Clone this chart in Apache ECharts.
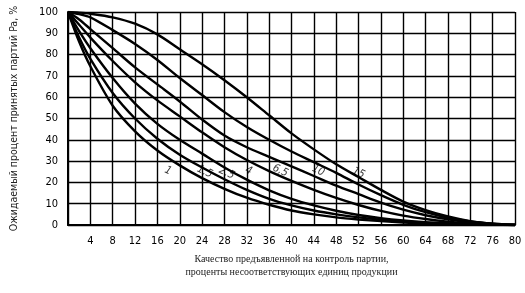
<!DOCTYPE html>
<html>
<head>
<meta charset="utf-8">
<script src="https://cdn.jsdelivr.net/npm/echarts@6/dist/echarts.min.js"></script>
<style>html,body{margin:0;padding:0;background:#fff;}#c{width:525px;height:293px;}</style>
</head>
<body>
<div id="c"></div>
<script>
// Defect level, % (x positions of read points)
var defectPct = [0, 2, 4, 8, 12, 16, 20, 24, 28, 32, 36, 40, 44, 48, 52, 56, 60, 64, 68, 72, 76, 80];
// Curve labels (AQL)
var curveNames = ['1', '1,5', '2,5', '4', '6,5', '10', '15'];
// Probability of acceptance Pa, % for each curve
var pa1   = [100, 86, 74.5, 56, 44, 35, 28, 22, 17, 12.8, 9.5, 6.8, 5, 3.6, 2.6, 1.8, 1.2, 0.7, 0.4, 0.2, 0, 0];
var pa1_5 = [100, 88, 78, 62, 50, 40.5, 33, 27, 21.5, 16.5, 12.3, 9.2, 6.8, 5, 3.6, 2.5, 1.7, 1.1, 0.6, 0.3, 0.1, 0];
var pa2_5 = [100, 91, 83, 69, 57, 47.5, 40, 33.5, 27, 21.3, 16.3, 12.3, 9.2, 6.7, 4.7, 3.2, 2.1, 1.3, 0.8, 0.4, 0.1, 0];
var pa4   = [100, 94, 88, 77, 67, 58.5, 51, 43.5, 36.5, 30.5, 25.3, 20.7, 16.5, 12.7, 9.4, 6.6, 4.4, 2.8, 1.6, 0.8, 0.3, 0];
var pa6_5 = [100, 96.5, 92, 83, 74, 66, 58, 49.5, 42, 36.5, 32, 27.5, 23, 18.5, 14.5, 10.5, 7.2, 4.6, 2.7, 1.4, 0.5, 0];
var pa10  = [100, 99, 97.5, 91.5, 85, 77.5, 69, 61, 53, 46, 40, 34.5, 29.5, 24.5, 19, 14, 9.5, 6, 3.4, 1.7, 0.6, 0];
var pa15  = [100, 99.7, 99.2, 97.5, 94.5, 89.5, 82.5, 75.5, 68, 60, 51.5, 43, 35.5, 28.5, 22.5, 16.5, 11, 7, 4, 1.8, 0.6, 0];
// Curve label anchor points (x %, Pa %)
var labelX = [17.9, 24.5, 28.4, 32.3, 38, 44.8, 52];
var labelY = [25.5, 25, 24.4, 25.5, 25.5, 25.5, 24.4];
// Axis tick settings
var xMin = 0, xMax = 80, xStep = 4;
var yMin = 0, yMax = 100, yStep = 10;

var allPa = [pa1, pa1_5, pa2_5, pa4, pa6_5, pa10, pa15];

function zip(xs, ys) { return xs.map(function (x, i) { return [x, ys[i]]; }); }

var series = allPa.map(function (ys, k) {
  return {
    name: curveNames[k], type: 'line', data: zip(defectPct, ys),
    smooth: 0.3, symbol: 'none',
    lineStyle: { color: '#000', width: 2.4 }, z: 3
  };
});
series.push({
  type: 'scatter', symbolSize: 0, z: 4,
  data: labelX.map(function (x, i) { return [x, labelY[i], curveNames[i]]; }),
  label: {
    show: true, position: 'inside', color: '#000',
    fontFamily: 'DejaVu Sans Condensed', fontStyle: 'italic', fontSize: 11,
    rotate: -25,
    formatter: function (p) { return p.data[2]; }
  }
});

var chart = echarts.init(document.getElementById('c'), null, { renderer: 'canvas' });
chart.setOption({
  backgroundColor: '#fff',
  animation: false,
  grid: { left: 68, top: 12, width: 447, height: 213 },
  xAxis: {
    type: 'value', min: xMin, max: xMax, interval: xStep,
    name: 'Качество предъявленной на контроль партии,\nпроценты несоответствующих единиц продукции',
    nameLocation: 'middle', nameGap: 28,
    nameTextStyle: { fontFamily: 'Liberation Serif', fontSize: 10, color: '#222', lineHeight: 13, verticalAlign: 'top' },
    axisLine: { lineStyle: { color: '#000', width: 2 } },
    axisTick: { show: false },
    axisLabel: {
      color: '#000', fontFamily: 'DejaVu Sans Condensed', fontSize: 11, margin: 11,
      formatter: function (v) { return v === 0 ? '' : String(v); }
    },
    splitLine: { show: true, lineStyle: { color: '#000', width: 1.4 } }
  },
  yAxis: {
    type: 'value', min: yMin, max: yMax, interval: yStep,
    name: 'Ожидаемый процент принятых партий Pa, %',
    nameLocation: 'middle', nameGap: 48, nameRotate: 90,
    nameTextStyle: { fontFamily: 'DejaVu Sans Condensed', fontSize: 10.5, color: '#222' },
    axisLine: { show: true, lineStyle: { color: '#000', width: 2 } },
    axisTick: { show: false },
    axisLabel: { color: '#000', fontFamily: 'DejaVu Sans Condensed', fontSize: 11, margin: 10 },
    splitLine: { show: true, lineStyle: { color: '#000', width: 1.4 } }
  },
  series: series
});
</script>
</body>
</html>
